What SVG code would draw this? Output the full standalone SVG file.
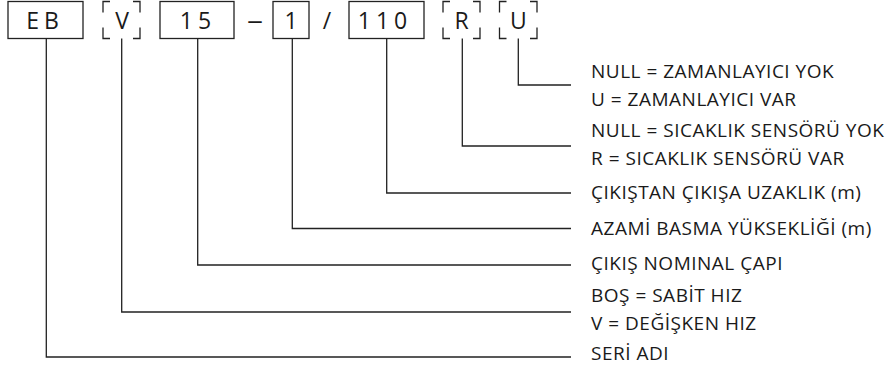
<svg xmlns="http://www.w3.org/2000/svg" width="888" height="372" viewBox="0 0 888 372">
  <style>
    .box { fill: none; stroke: #222; stroke-width: 1.3; }
    .code { font-family: "Open Sans", "Noto Sans", sans-serif; font-size: 23px; fill: #1a1a1a; text-anchor: middle; }
    .wide { letter-spacing: 5px; }
    .lbl { font-family: "Open Sans", "Noto Sans", sans-serif; font-size: 19px; letter-spacing: 0.5px; fill: #1a1a1a; }
    .conn { fill: none; stroke: #222; stroke-width: 1.3; }
  </style>
  <rect width="888" height="372" fill="#fff"/>

  <g id="node-EB">
    <rect class="box" x="8" y="1.5" width="75" height="37"/>
    <text class="code wide" x="45" y="28.5">EB</text>
  </g>
  <g id="node-V">
    <path class="box" d="M103,12.5 V1.5 H110 M133,1.5 H140 V12.5 M103,27.5 V38.5 H110 M133,38.5 H140 V27.5"/>
    <text class="code" x="122" y="28.5">V</text>
  </g>
  <g id="node-15">
    <rect class="box" x="160" y="1.5" width="74" height="37"/>
    <text class="code wide" x="198" y="28.5">15</text>
  </g>
  <g id="sep-dash">
    <text class="code" x="255" y="28.5" textLength="16" lengthAdjust="spacingAndGlyphs">–</text>
  </g>
  <g id="node-1">
    <rect class="box" x="273" y="1.5" width="36" height="37"/>
    <text class="code" x="291" y="28.5">1</text>
  </g>
  <g id="sep-slash">
    <text class="code" x="327" y="28.5">/</text>
  </g>
  <g id="node-110">
    <rect class="box" x="349" y="1.5" width="75" height="37"/>
    <text class="code wide" x="385" y="28.5">110</text>
  </g>
  <g id="node-R">
    <path class="box" d="M443,12.5 V1.5 H450 M473,1.5 H480 V12.5 M443,27.5 V38.5 H450 M473,38.5 H480 V27.5"/>
    <text class="code" x="461.5" y="28.5">R</text>
  </g>
  <g id="node-U">
    <path class="box" d="M499.5,12.5 V1.5 H506.5 M530,1.5 H537 V12.5 M499.5,27.5 V38.5 H506.5 M530,38.5 H537 V27.5"/>
    <text class="code" x="518.3" y="28.5">U</text>
  </g>

  <g id="connectors">
    <path class="conn" d="M518.3,38.5 V85 H571"/>
    <path class="conn" d="M462.3,38.5 V146 H571"/>
    <path class="conn" d="M386.7,38.5 V193 H571"/>
    <path class="conn" d="M292.3,38.5 V228.5 H571"/>
    <path class="conn" d="M197.7,38.5 V265 H571"/>
    <path class="conn" d="M121.7,38.5 V312 H571"/>
    <path class="conn" d="M46.3,38.5 V357 H571"/>
  </g>

  <g id="label-U">
    <text class="lbl" x="591" y="78">NULL = ZAMANLAYICI YOK</text>
    <text class="lbl" x="591" y="106">U = ZAMANLAYICI VAR</text>
  </g>
  <g id="label-R">
    <text class="lbl" x="591" y="137">NULL = SICAKLIK SENSÖRÜ YOK</text>
    <text class="lbl" x="591" y="165">R = SICAKLIK SENSÖRÜ VAR</text>
  </g>
  <g id="label-110">
    <text class="lbl" x="591" y="199">ÇIKIŞTAN ÇIKIŞA UZAKLIK (m)</text>
  </g>
  <g id="label-1">
    <text class="lbl" x="591" y="235">AZAMİ BASMA YÜKSEKLİĞİ (m)</text>
  </g>
  <g id="label-15">
    <text class="lbl" x="591" y="270">ÇIKIŞ NOMINAL ÇAPI</text>
  </g>
  <g id="label-V">
    <text class="lbl" x="591" y="302">BOŞ = SABİT HIZ</text>
    <text class="lbl" x="591" y="329.5">V = DEĞİŞKEN HIZ</text>
  </g>
  <g id="label-EB">
    <text class="lbl" x="591" y="360">SERİ ADI</text>
  </g>
</svg>
